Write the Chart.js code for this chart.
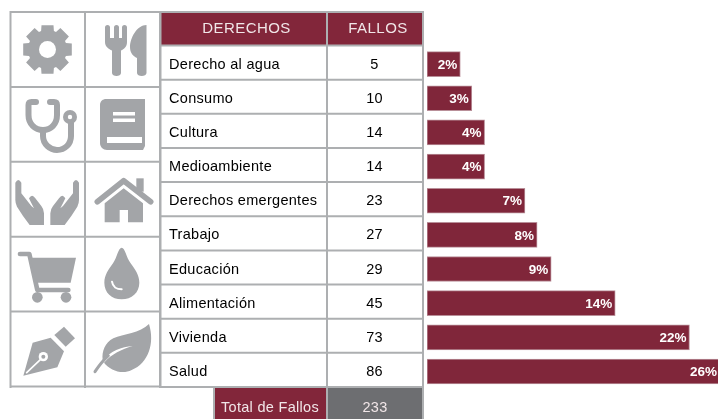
<!DOCTYPE html>
<html><head><meta charset="utf-8">
<style>html,body{margin:0;padding:0;background:#fff;overflow:hidden}#w{width:718px;height:419px;position:relative}</style>
<script src="https://cdn.jsdelivr.net/npm/chart.js@4"></script></head>
<body><div id="w"><canvas id="c" width="718" height="419"></canvas></div>
<script>
const categories=["Derecho al agua","Consumo","Cultura","Medioambiente","Derechos emergentes","Trabajo","Educación","Alimentación","Vivienda","Salud"];
const fallos=[5,10,14,14,23,27,29,45,73,86];
const percentLabels=["2%","3%","4%","4%","7%","8%","9%","14%","22%","26%"];
const barLengths=[2.6,3.5,4.5,4.5,7.65,8.6,9.7,14.7,20.5,22.9];
const headers=["DERECHOS","FALLOS"];
const totalLabel="Total de Fallos";
const totalValue="233";

const MAROON="#82263a",LINE="#adafb1",ICON="#a3a5a8",GREY="#6d6e71";
function gearPath(cx,cy,r0,r1,n){let d="";for(let i=0;i<n;i++){const a=i/n*2*Math.PI-Math.PI/2,w=Math.PI/n*0.62,w2=Math.PI/n*0.85;
 const pt=(r,t)=>(cx+r*Math.cos(t)).toFixed(1)+" "+(cy+r*Math.sin(t)).toFixed(1);
 d+=(i?"L":"M")+pt(r0,a-w2)+"L"+pt(r1,a-w)+"L"+pt(r1,a+w)+"L"+pt(r0,a+w2);}
 return d+"Z";}
const icons=[
 {o:[0,0],s:1,ops:[["f",gearPath(47.5,49.5,19.5,25,8)],["c",47.5,49.5,8.5,"#fff"]]},
 {o:[0,0],s:1,ops:[["f","M105 27.5a2.5 2.5 0 0 1 5 0V38h4V27.5a2.5 2.5 0 0 1 5 0V38h3V27.5a2.5 2.5 0 0 1 5 0V42c0 5-3 7-6 8.500V73c0 4-9 4-9 0V50.500c-3-1.500-7-3.500-7-8.500z"],
   ["f","M146.500 25V73c0 4-9.500 4-9.500 0V58c-4-2-7-5-7-11 0-9 7-22 16.500-22z"]]},
 {o:[0,0],s:1,ops:[["s","M36 102H31.500Q28.500 102 28.500 105V115C28.500 124 35 130 43 130C51 130 57 124 57 115V105Q57 102 54 102H50",6],
   ["s","M43 130V136C43 144 50 150 57 150C65 150 71 144 71 136V122",6],["c",70,117,7,ICON],["c",70,117,2.200,"#fff"]]},
 {o:[0,0],s:1,ops:[["f","M106 99H145V146L143 150H107C103 150 100 147 100 143V105C100 101 103 99 106 99z"],
   ["r",113,112,22,3.500,"#fff"],["r",113,118.500,22,3.500,"#fff"],["r",107,137,35,6,"#fff"]]},
 {o:[8,160],s:1/3,ops:[["f","M22 68Q31 52 40 68L40 100L70 138L78 145L68 125L63 115Q72 100 82 115L100 138Q108 148 108 160L108 195L65 195L45 168L27 140Q22 130 22 120Z"],
   ["f","M213 68Q204 52 195 68L195 100L165 138L157 145L167 125L172 115Q163 100 153 115L135 138Q127 148 127 160L127 195L170 195L190 168L208 140Q213 130 213 120Z"]]},
 {o:[8,160],s:1/3,ops:[["s","M268 125L347 62L428 125",17],["r",385,55,22,40,ICON],
   ["f","M347 85L405 130V187H360V150H335V187H290V130Z"]]},
 {o:[0,210],s:1/3,ops:[["s","M60 132H88L112 240H205",14],["f","M92 143H228L212 218H108Z"],
   ["c",112,262,16,ICON],["c",198,262,16,ICON]]},
 {o:[0,210],s:1/3,ops:[["f","M365 113C375 113 378 140 392 160C405 178 418 195 418 218C418 248 395 268 365 268C335 268 313 248 313 218C313 195 326 178 339 160C352 140 355 113 365 113Z"],
   ["w","M336 215C338 230 350 238 365 238",6]]},
 {o:[0,210],s:1/3,ops:[["f","M163 375L192 350L225 385L197 410Z"],["f","M70 497L98 398L152 383L192 424L172 472Z"],
   ["w","M80 488L125 445",5],["c",130,440,14,"#fff"],["c",130,440,6,ICON]]},
 {o:[0,210],s:1/3,ops:[["f","M447 342C420 370 370 372 340 385C315 397 305 425 308 450C330 425 365 410 398 408C365 418 335 432 312 458C330 480 365 495 395 480C445 460 465 400 447 342Z"],
   ["s","M285 485C295 470 305 455 325 437",9]]}
];
function drawIcons(ctx){
 icons.forEach(ic=>{ctx.save();ctx.translate(ic.o[0],ic.o[1]);ctx.scale(ic.s,ic.s);ctx.lineCap="round";ctx.lineJoin="round";
  ic.ops.forEach(op=>{
   if(op[0]==="f"){ctx.fillStyle=ICON;ctx.fill(new Path2D(op[1]));}
   else if(op[0]==="s"||op[0]==="w"){ctx.strokeStyle=op[0]==="s"?ICON:"#fff";ctx.lineWidth=op[2];ctx.stroke(new Path2D(op[1]));}
   else if(op[0]==="c"){ctx.fillStyle=op[4];ctx.beginPath();ctx.arc(op[1],op[2],op[3],0,2*Math.PI);ctx.fill();}
   else if(op[0]==="r"){ctx.fillStyle=op[5];ctx.fillRect(op[1],op[2],op[3],op[4]);}
  });ctx.restore();});
}
const tablePlugin={id:"table",beforeDatasetsDraw(chart){
 const ctx=chart.ctx,y=chart.scales.y;
 const X0=160.5,X1=327,X2=423,H0=12,R0=45.5,RH=34.15,RN=R0+RH*categories.length;
 ctx.save();
 ctx.strokeStyle=LINE;ctx.lineWidth=2;
 [10.5,85,160].forEach(x=>{ctx.beginPath();ctx.moveTo(x,11);ctx.lineTo(x,388);ctx.stroke();});
 for(let i=0;i<6;i++){const yy=12+i*74.9;ctx.beginPath();ctx.moveTo(10,yy);ctx.lineTo(160,yy);ctx.stroke();}
 drawIcons(ctx);
 ctx.fillStyle=MAROON;ctx.fillRect(X0,H0,X2-X0,R0-H0);
 ctx.fillRect(214,RN,X1-214,419-RN);
 ctx.fillStyle=GREY;ctx.fillRect(X1,RN,X2-X1,419-RN);
 ctx.strokeStyle=LINE;ctx.lineWidth=2;
 for(let i=0;i<=categories.length;i++){const yy=R0+i*RH;ctx.beginPath();ctx.moveTo(X0,yy);ctx.lineTo(X2+1,yy);ctx.stroke();}
 ctx.beginPath();ctx.moveTo(X0,H0);ctx.lineTo(X2+1,H0);ctx.stroke();
 [X0,X1,X2].forEach(x=>{ctx.beginPath();ctx.moveTo(x,H0);ctx.lineTo(x,x===X0?RN:419);ctx.stroke();});
 ctx.beginPath();ctx.moveTo(214,RN);ctx.lineTo(214,419);ctx.stroke();
 ctx.textBaseline="middle";
 ctx.font="15px 'Liberation Sans'";ctx.letterSpacing="0.45px";
 ctx.fillStyle="#f1e6e8";ctx.textAlign="center";
 ctx.fillText(headers[0],246.5,29);ctx.fillText(headers[1],378,29);
 ctx.font="14.5px 'Liberation Sans'";ctx.letterSpacing="0.3px";
 categories.forEach((c,i)=>{
  const cy=y.getPixelForValue(i)+0.5;
  ctx.fillStyle="#000";ctx.textAlign="left";ctx.fillText(c,169,cy);
  ctx.textAlign="center";ctx.fillText(String(fallos[i]),374.5,cy);
 });
 ctx.fillStyle="#f1e6e8";ctx.textAlign="left";ctx.fillText(totalLabel,221,407.5);
 ctx.textAlign="center";ctx.fillText(totalValue,375,407.5);
 ctx.restore();
}};
const labelPlugin={id:"barLabels",afterDatasetsDraw(chart){
 const ctx=chart.ctx,els=chart.getDatasetMeta(0).data;
 ctx.save();ctx.font="bold 13.5px 'Liberation Sans'";ctx.fillStyle="#fff";ctx.textAlign="right";ctx.textBaseline="middle";
 els.forEach((el,i)=>ctx.fillText(percentLabels[i],Math.min(el.x,720)-3,el.y+1));
 ctx.restore();
}};
new Chart(document.getElementById("c"),{type:"bar",
 data:{labels:categories,datasets:[{data:barLengths,backgroundColor:"#80263a",borderColor:"#b98f99",borderWidth:1,barThickness:25,borderSkipped:false}]},
 options:{indexAxis:"y",responsive:false,animation:false,
  layout:{padding:{left:427,top:47,bottom:30.4,right:0}},
  plugins:{legend:{display:false},tooltip:{enabled:false}},
  scales:{x:{display:false,min:0,max:22.73},y:{display:false,grid:{display:false}}}},
 plugins:[tablePlugin,labelPlugin]});
</script></body></html>
